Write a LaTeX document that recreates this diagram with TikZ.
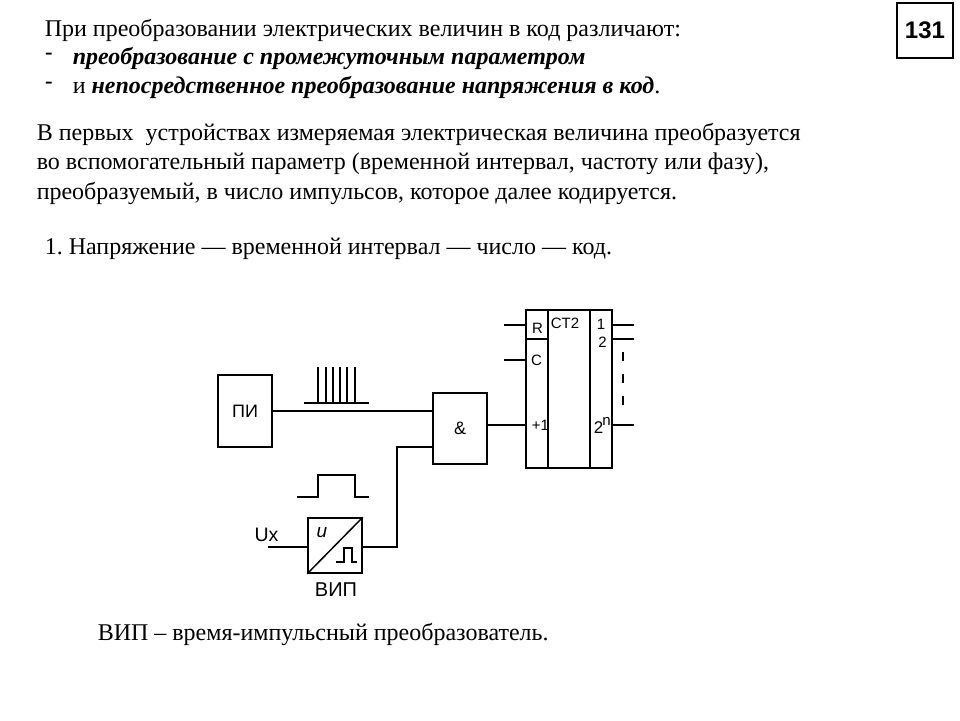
\documentclass[tikz,border=0pt]{standalone}
\usepackage{fontspec}
\setmainfont{Liberation Serif}
\setsansfont{Liberation Sans}
\usetikzlibrary{positioning}
\newcommand{\txtsize}{\fontsize{24}{28}\selectfont}
\frenchspacing
\begin{document}
\begin{tikzpicture}[x=1pt,y=1pt,line width=1.5pt,
	box/.style={draw,inner sep=0pt,font=\sffamily\fontsize{18}{20}\selectfont},
	txt/.style={anchor=base west,inner sep=0pt,font=\txtsize},
	lab/.style={inner sep=0pt,font=\sffamily\fontsize{15}{18}\selectfont},
	thin line/.style={line width=1.2pt}]
	\useasboundingbox (0,0) rectangle (960,-720);
	\node[txt] (t1) at (44,-36) {При преобразовании электрических величин в код различают:};
	\node[txt,font=\sffamily\txtsize] (d1) at (44,-60) {-};
	\node[txt] (t2) at (72,-64) {\textbf{\textit{преобразование с промежуточным параметром}}};
	\node[txt,font=\sffamily\txtsize] (d2) at (44,-89) {-};
	\node[txt] (t3) at (72,-93) {и \textbf{\textit{непосредственное преобразование напряжения в код}}.};
	\node[txt] (p1) at (36,-140) {В первых\ \ устройствах измеряемая электрическая величина преобразуется};
	\node[txt] (p2) at (36,-169) {во вспомогательный параметр (временной интервал, частоту или фазу),};
	\node[txt] (p3) at (36,-199) {преобразуемый, в число импульсов, которое далее кодируется.};
	\node[txt] (p4) at (44,-254) {1. Напряжение — временной интервал — число — код.};
	\node[txt] (p5) at (97,-640) {ВИП – время-импульсный преобразователь.};
	\node[draw,inner sep=0pt,minimum width=56pt,minimum height=55pt,font=\sffamily\bfseries\fontsize{24}{28}\selectfont] (page) at (925,-30.5) {131};

	\node[box,minimum width=54pt,minimum height=72pt] (gen) at (245,-411) {ПИ};
	\node[box,minimum width=54pt,minimum height=71pt] (and) at (460,-428.5) {\&};
	\node[box,minimum width=54pt,minimum height=55pt] (vip) at (335,-545.5) {};
	\node[box,minimum width=86pt,minimum height=158pt] (ct) at (569,-389) {};

	\coordinate (and1) at (433,-411);
	\coordinate (and2) at (433,-447);
	\coordinate (corner1) at (397,-447);
	\coordinate (corner2) at (397,-547);
	\coordinate (vipin) at (308,-547);
	\coordinate (vipout) at (362,-547);
	\coordinate (ux) at (268,-547);
	\coordinate (ctin) at (526,-425);
	\coordinate (andout) at (487,-425);
	\draw (gen.east |- and1) -- (and1);
	\draw (and2) -- (corner1) -- (corner2) -- (vipout);
	\draw (ux) -- (vipin);
	\draw (andout) -- (ctin);

	\draw (vip.south west) -- (vip.north east);
	\node[inner sep=0pt,font=\sffamily\itshape\fontsize{19}{20}\selectfont] (vipu) at (322,-533) {u};
	\draw[thin line] (336,-562) -- (344,-562) -- (344,-548) -- (352,-548) -- (352,-562) -- (357,-562);
	\node[box,draw=none,font=\sffamily\fontsize{20}{22}\selectfont] (viplab) at (336,-590) {ВИП};
	\node[box,draw=none,font=\sffamily\fontsize{19.5}{22}\selectfont] (uxlab) at (266.5,-535) {Ux};

	\draw[thin line] (297,-497) -- (318,-497) -- (318,-475) -- (355,-475) -- (355,-497) -- (369,-497);
	\draw[thin line] (304,-403) -- (369,-403);
	\foreach \x in {318,326,333,340,347,355}
		\draw[thin line] (\x,-403) -- (\x,-367);

	\coordinate (ctr1) at (548,-310);
	\coordinate (ctr2) at (548,-468);
	\coordinate (ctr3) at (590,-310);
	\coordinate (ctr4) at (590,-468);
	\draw (ctr1) -- (ctr2);
	\draw (ctr3) -- (ctr4);
	\draw (526,-339) -- (548,-339);
	\foreach \y/\name in {325/r,360/c}
	{
		\coordinate (in\name) at (526,-\y);
		\coordinate (st\name) at (504,-\y);
		\draw (st\name) -- (in\name);
	}
	\foreach \y/\name in {325/a,339/b,425/n}
	{
		\coordinate (out\name) at (612,-\y);
		\coordinate (end\name) at (634,-\y);
		\draw (out\name) -- (end\name);
	}
	\foreach \y in {352,374,396}
		\draw (623,-\y) -- (623,-\y-9);
	\node[lab] (lr) at (537.5,-328) {R};
	\node[lab] (lc) at (536.5,-360) {C};
	\node[lab] (l1) at (540.5,-425) {+1};
	\node[lab] (lct) at (565,-323) {CT2};
	\node[lab] (o1) at (601,-324) {1};
	\node[lab] (o2) at (602.5,-342) {2};
	\node[lab,font=\sffamily\fontsize{17}{18}\selectfont] (o3) at (598.5,-428) {2};
	\node[lab,font=\sffamily\fontsize{15}{18}\selectfont] (o4) at (606.5,-421) {n};
\end{tikzpicture}
\end{document}
